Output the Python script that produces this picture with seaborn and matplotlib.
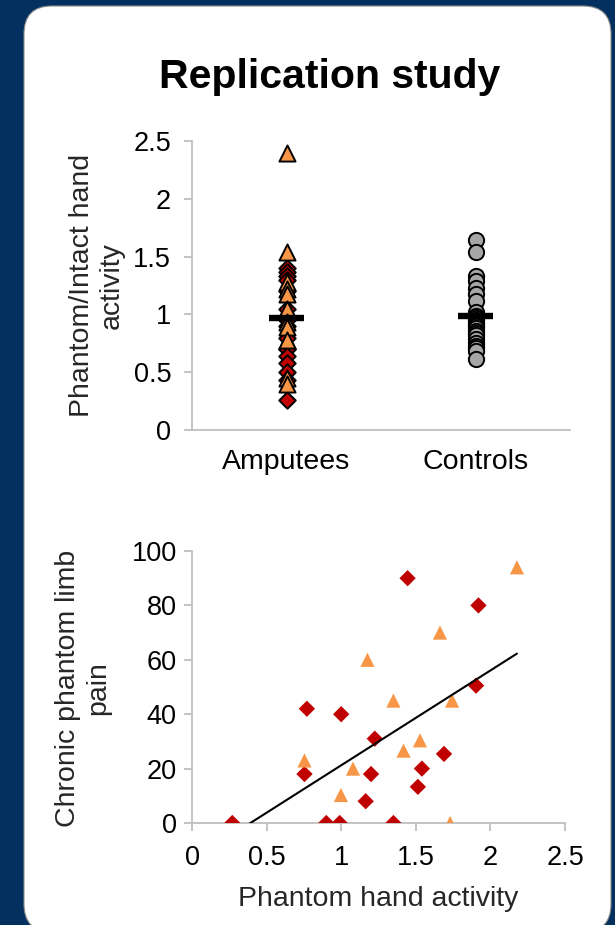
import numpy as np
import pandas as pd
import matplotlib
matplotlib.use("Agg")
import matplotlib.pyplot as plt
from matplotlib.patches import FancyBboxPatch
from matplotlib.ticker import FuncFormatter
import seaborn as sns

# ---- data -------------------------------------------------------------
groups = ["Amputees", "Controls"]

# Phantom/intact hand activity ratio per participant
amp_ratio_tri = [2.40, 1.54, 1.28, 1.22, 1.18, 1.05, 0.93, 0.89, 0.78, 0.45, 0.40]
amp_ratio_dia = [1.40, 1.37, 1.33, 1.30, 1.20, 1.05, 0.95, 0.90, 0.80, 0.70,
                 0.70, 0.64, 0.58, 0.50, 0.43, 0.26]
ctrl_ratio = [1.64, 1.54, 1.33, 1.29, 1.23, 1.18, 1.12, 1.02, 0.99, 0.97, 0.95,
              0.93, 0.92, 0.90, 0.88, 0.86, 0.84, 0.82, 0.79, 0.75, 0.73, 0.71,
              0.68, 0.61]

# Phantom hand activity vs. chronic phantom limb pain
pain_tri_x = [1.176, 0.754, 1.079, 0.998, 2.178, 1.662, 1.350, 1.743, 1.528, 1.418, 1.730]
pain_tri_y = [60, 23, 20, 10.3, 94, 70, 45, 45, 30.4, 26.6, 0]
pain_dia_x = [0.270, 0.770, 1.000, 1.225, 0.754, 1.200, 1.164, 0.900, 0.990, 1.445,
              1.920, 1.904, 1.689, 1.541, 1.514, 1.350]
pain_dia_y = [0, 42, 40, 31, 18, 18, 8, 0, 0, 90, 80, 50.5, 25.4, 20, 13.3, 0]

ratio_ticks = [0, 0.5, 1, 1.5, 2, 2.5]
pain_ticks = [0, 20, 40, 60, 80, 100]

# ---- style ------------------------------------------------------------
sns.set_style("ticks")
plt.rcParams["font.family"] = ["Liberation Sans", "DejaVu Sans"]

NAVY = "#03305E"
ORANGE = "#F79646"
RED = "#C00000"
GREY = "#A6A6A6"
AXIS = "#BFBFBF"

W, H = 615, 925
fig = plt.figure(figsize=(W / 100, H / 100), dpi=100, facecolor=NAVY)

# white rounded card behind everything
bg = fig.add_axes([0, 0, 1, 1], zorder=-10)
bg.set_xlim(0, W)
bg.set_ylim(H, 0)
bg.axis("off")
bg.add_patch(FancyBboxPatch((24, 6), 587, 926,
                            boxstyle="round,pad=0,rounding_size=28",
                            fc="white", ec="#8C8C8C", lw=0.8))

fig.text(330 / W, 1 - 77 / H, "Replication study", ha="center", va="center",
         fontsize=29.5, fontweight="bold", color="black")


def style_axes(ax):
    sns.despine(ax=ax)
    for side in ("left", "bottom"):
        ax.spines[side].set_color(AXIS)
        ax.spines[side].set_linewidth(1.3)
    ax.set_facecolor("none")
    ax.tick_params(colors=AXIS, labelcolor="black", width=1.3, length=6,
                   labelsize=19.5)


num_fmt = FuncFormatter(lambda v, _: f"{v:g}")

# ---- top panel: ratio strip plot --------------------------------------
ax1 = fig.add_axes([192 / W, 1 - 430 / H, 378 / W, 289 / H])

df_dia = pd.DataFrame({"group": "Amputees", "ratio": amp_ratio_dia})
df_tri = pd.DataFrame({"group": "Amputees", "ratio": amp_ratio_tri})
df_ctl = pd.DataFrame({"group": "Controls", "ratio": ctrl_ratio})

sns.stripplot(data=df_dia, x="group", y="ratio", order=groups, jitter=False,
              marker="D", size=8.4, color=RED, edgecolor="black", linewidth=1.4,
              ax=ax1, zorder=3)
sns.stripplot(data=df_tri, x="group", y="ratio", order=groups, jitter=False,
              marker="^", size=11.6, color=ORANGE, edgecolor="black", linewidth=1.4,
              ax=ax1, zorder=3)
sns.stripplot(data=df_ctl, x="group", y="ratio", order=groups, jitter=False,
              marker="o", size=11.0, color=GREY, edgecolor="black", linewidth=1.4,
              ax=ax1, zorder=3)

means = [np.mean(amp_ratio_dia + amp_ratio_tri), np.mean(ctrl_ratio)]
ax1.hlines(means, [p - 0.09 for p in range(2)], [p + 0.09 for p in range(2)],
           color="black", lw=4.6, zorder=5)

ax1.set_xlim(-0.5, 1.5)
ax1.set_ylim(0, 2.5)
ax1.set_yticks(ratio_ticks)
ax1.yaxis.set_major_formatter(num_fmt)
style_axes(ax1)
ax1.tick_params(axis="x", length=0, pad=13.5, labelsize=20.5)
ax1.tick_params(axis="y", pad=9)
ax1.set_xlabel("")
ax1.set_ylabel("Phantom/Intact hand\nactivity", fontsize=20.5, va="center",
               ha="center", multialignment="center")
ax1.yaxis.set_label_coords(-0.251, 0.5)

# ---- bottom panel: activity vs pain -----------------------------------
ax2 = fig.add_axes([192 / W, 1 - 823 / H, 373 / W, 272 / H])

df_pain = pd.DataFrame({"activity": pain_dia_x + pain_tri_x,
                        "pain": pain_dia_y + pain_tri_y})

sns.scatterplot(x=pain_dia_x, y=pain_dia_y, marker="D", s=8.3 ** 2, color=RED,
                edgecolor="none", ax=ax2, zorder=3)
sns.scatterplot(x=pain_tri_x, y=pain_tri_y, marker="^", s=10.2 ** 2, color=ORANGE,
                edgecolor="none", ax=ax2, zorder=3)
sns.regplot(data=df_pain, x="activity", y="pain", ci=None, scatter=False,
            truncate=True, color="black", line_kws={"lw": 1.5, "zorder": 4},
            ax=ax2)

ax2.set_xlim(0, 2.5)
ax2.set_ylim(0, 100)
ax2.set_xticks(ratio_ticks)
ax2.set_yticks(pain_ticks)
ax2.xaxis.set_major_formatter(num_fmt)
style_axes(ax2)
ax2.tick_params(axis="x", pad=10)
ax2.tick_params(axis="y", pad=5)
ax2.set_xlabel("Phantom hand activity", fontsize=20.5, labelpad=11)
ax2.set_ylabel("Chronic phantom limb\npain", fontsize=20.5, va="center",
               ha="center", multialignment="center")
ax2.yaxis.set_label_coords(-0.292, 0.496)

fig.savefig("out.png", dpi=100, facecolor=fig.get_facecolor())
